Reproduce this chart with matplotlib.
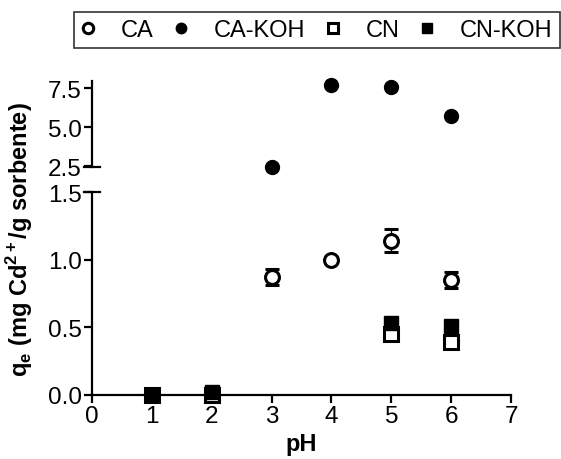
import matplotlib
matplotlib.use("Agg")
import matplotlib.pyplot as plt
import numpy as np
from matplotlib.lines import Line2D

plt.rcParams['font.family'] = ['Liberation Sans', 'DejaVu Sans']
plt.rcParams['mathtext.fontset'] = 'custom'
plt.rcParams['mathtext.rm'] = 'Liberation Sans'
plt.rcParams['mathtext.bf'] = 'Liberation Sans:bold'

ph = [1, 2, 3, 4, 5, 6]
ca = [0.0, 0.0, 0.87, 1.00, 1.14, 0.85]
ca_err = [0.0, 0.0, 0.06, 0.02, 0.085, 0.06]
ca_koh = [0.0, 0.0, 2.45, 7.71, 7.58, 5.72]
cn = [0.0, 0.0, np.nan, np.nan, 0.45, 0.39]
cn_koh = [0.0, 0.02, np.nan, np.nan, 0.53, 0.51]

x_ticks = [0, 1, 2, 3, 4, 5, 6, 7]
y_low_ticks = [0.0, 0.5, 1.0, 1.5]
y_high_ticks = [2.5, 5.0, 7.5]
labels = ['CA', 'CA-KOH', 'CN', 'CN-KOH']

W, H = 561, 460
fig = plt.figure(figsize=(W/100, H/100), dpi=100)

left, right = 92/W, 511/W
axb = fig.add_axes([left, 1-396/H, right-left, (396-193)/H])
axt = fig.add_axes([left, 1-168/H, right-left, (168-82)/H])

lw = 1.6
fs = 17.5
ms = 10

def style(ax):
    for s in ['top', 'right']:
        ax.spines[s].set_visible(False)
    for s in ['left', 'bottom']:
        ax.spines[s].set_linewidth(lw)
    ax.tick_params(direction='out', length=6, width=lw, labelsize=fs, pad=1.5)

style(axb)
style(axt)
axt.spines['bottom'].set_visible(False)
axt.tick_params(axis='x', bottom=False, labelbottom=False)

axb.set_xlim(0, 7)
axb.set_ylim(0, 1.5)
axb.set_xticks(x_ticks)
axb.set_yticks(y_low_ticks)
axb.set_yticklabels([f'{v:.1f}' for v in y_low_ticks])
axt.set_xlim(0, 7)
axt.set_ylim(2.44, 7.95)
axt.set_yticks(y_high_ticks)
axt.set_yticklabels([f'{v:.1f}' for v in y_high_ticks])

# caps at break
for ax, yy in [(axb, 1.0), (axt, 0.0)]:
    ax.add_line(Line2D([-0.018, 0.018], [yy, yy], transform=ax.transAxes,
                       color='black', lw=lw, clip_on=False))

ph_a = np.array(ph, dtype=float)
ca_koh_a = np.array(ca_koh)
low = ca_koh_a < 2
high = ~low

# CA-KOH
axb.plot(ph_a[low], ca_koh_a[low], 'o', color='black', ms=ms, clip_on=False, zorder=3)
axt.plot(ph_a[high], ca_koh_a[high], 'o', color='black', ms=ms, clip_on=False, zorder=3)
# CA
axb.errorbar(ph, ca, yerr=ca_err, fmt='o', mfc='white', mec='black', mew=2.2,
             ms=ms, ecolor='black', elinewidth=1.0, capsize=4.7, capthick=1.0,
             clip_on=False, zorder=4)
# CN
axb.plot(ph, cn, 's', mfc='white', mec='black', mew=2.2, ms=ms-0.5, clip_on=False, zorder=5)
# CN-KOH
axb.plot(ph, cn_koh, 's', color='black', ms=ms-0.5, clip_on=False, zorder=6)

axb.set_xlabel('pH', fontsize=17, fontweight='bold', labelpad=3)
fig.text(20/W, 1-240/H, r'q$_\mathbf{e}$ (mg Cd$^{\mathbf{2+}}$/g sorbente)',
         rotation=90, ha='center', va='center', fontsize=17, fontweight='bold')

handles = [
    Line2D([], [], ls='none', marker='o', mfc='white', mec='black', mew=2.2, ms=ms),
    Line2D([], [], ls='none', marker='o', color='black', ms=ms),
    Line2D([], [], ls='none', marker='s', mfc='white', mec='black', mew=2.2, ms=ms-0.5),
    Line2D([], [], ls='none', marker='s', color='black', ms=ms-0.5),
]
leg = fig.legend(handles, labels, loc='upper left', bbox_to_anchor=(74/W, 1-13/H),
                 ncol=4, fontsize=17, frameon=True, fancybox=False, edgecolor='black',
                 borderpad=0.3, handlelength=0.6, handletextpad=1.1, columnspacing=0.85,
                 markerscale=0.75, borderaxespad=0)
leg.get_frame().set_linewidth(1.2)

fig.savefig('out.png', dpi=100)
